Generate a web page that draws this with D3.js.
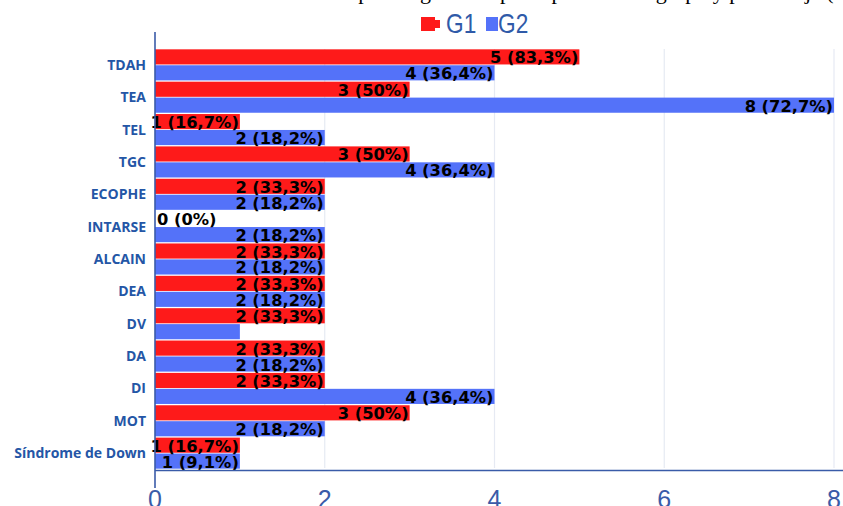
<!DOCTYPE html>
<html>
<head>
<meta charset="utf-8">
<script src="https://cdn.jsdelivr.net/npm/d3@7"></script>
<style>
  body { margin: 0; background: #fff; }
  svg { display: block; }
  .cat { font-family: "Open Sans", sans-serif; font-weight: 700; font-size: 14px; fill: #2456a6; }
  .val { font-family: "DejaVu Sans", sans-serif; font-weight: 700; font-size: 16.3px; fill: #000; }
  .tick-lbl { font-family: "Liberation Sans", sans-serif; font-size: 25px; fill: #3a5ba8; }
</style>
</head>
<body>
<svg id="chart" width="843" height="506"></svg>
<script>
var categories = ["TDAH", "TEA", "TEL", "TGC", "ECOPHE", "INTARSE", "ALCAIN", "DEA", "DV", "DA", "DI", "MOT", "Síndrome de Down"];
var groups = ["G1", "G2"];
var g1Values = [5, 3, 1, 3, 2, 0, 2, 2, 2, 2, 2, 3, 1];
var g2Values = [4, 8, 2, 4, 2, 2, 2, 2, 1, 2, 4, 2, 1];
var g1Labels = ["5 (83,3%)", "3 (50%)", "1 (16,7%)", "3 (50%)", "2 (33,3%)", "0 (0%)", "2 (33,3%)", "2 (33,3%)", "2 (33,3%)", "2 (33,3%)", "2 (33,3%)", "3 (50%)", "1 (16,7%)"];
var g2Labels = ["4 (36,4%)", "8 (72,7%)", "2 (18,2%)", "4 (36,4%)", "2 (18,2%)", "2 (18,2%)", "2 (18,2%)", "2 (18,2%)", "", "2 (18,2%)", "4 (36,4%)", "2 (18,2%)", "1 (9,1%)"];
var xTicks = [0, 2, 4, 6, 8];

var svg = d3.select("#chart");
var color = d3.scaleOrdinal().domain(groups).range(["#fe1a1a", "#5472f9"]);

var x = d3.scaleLinear()
    .domain([0, 8])
    .range([155, 834]);

var y = d3.scaleBand()
    .domain(categories)
    .range([49, 469])
    .paddingInner(0.04)
    .paddingOuter(0.01);

var ySub = d3.scaleBand()
    .domain(groups)
    .range([0, y.bandwidth()])
    .paddingInner(0.05);

var rows = categories.map(function(c, i) {
  return {cat: c, vals: [
    {g: "G1", v: g1Values[i], label: g1Labels[i]},
    {g: "G2", v: g2Values[i], label: g2Labels[i]}
  ]};
});

// title, mostly cut off at the top edge
svg.append("text")
    .attr("x", 150)
    .attr("y", -1)
    .attr("font-family", "Liberation Serif, serif")
    .attr("font-size", 22)
    .attr("fill", "#000")
    .text("Frecuencia de alumnos por diagnóstico principal en cada grupo y porcentaje (n y %)");

// gridlines
svg.selectAll(".grid")
    .data(xTicks.slice(1))
  .enter().append("line")
    .attr("x1", function(d) { return x(d); })
    .attr("x2", function(d) { return x(d); })
    .attr("y1", 49)
    .attr("y2", 468)
    .attr("stroke", "#e6eaf3")
    .attr("stroke-width", 1.2);

// bars
var row = svg.selectAll(".row")
    .data(rows)
  .enter().append("g")
    .attr("transform", function(d) { return "translate(0," + y(d.cat) + ")"; });

row.selectAll("rect")
    .data(function(d) { return d.vals; })
  .enter().append("rect")
    .attr("x", x(0))
    .attr("y", function(d) { return ySub(d.g); })
    .attr("width", function(d) { return x(d.v) - x(0); })
    .attr("height", ySub.bandwidth())
    .attr("fill", function(d) { return color(d.g); });

row.selectAll(".val")
    .data(function(d) { return d.vals; })
  .enter().append("text")
    .attr("class", "val")
    .attr("x", function(d) { return d.v === 0 ? x(0) + 2 : x(d.v) - 1; })
    .attr("y", function(d) { return ySub(d.g) + ySub.bandwidth() / 2 + 6.5; })
    .attr("text-anchor", function(d) { return d.v === 0 ? "start" : "end"; })
    .text(function(d) { return d.label; });

// category labels
svg.selectAll(".cat")
    .data(categories)
  .enter().append("text")
    .attr("class", "cat")
    .attr("x", 146)
    .attr("y", function(d) { return y(d) + y.bandwidth() / 2 + 5; })
    .attr("text-anchor", "end")
    .text(function(d) { return d; });

// axes lines
svg.append("line")
    .attr("x1", x(0)).attr("x2", x(0))
    .attr("y1", 32).attr("y2", 488)
    .attr("stroke", "#3a5ba8").attr("stroke-width", 1.6);
svg.append("line")
    .attr("x1", x(0)).attr("x2", 843)
    .attr("y1", 470.5).attr("y2", 470.5)
    .attr("stroke", "#3a5ba8").attr("stroke-width", 1.4);

svg.selectAll(".tick-lbl")
    .data(xTicks)
  .enter().append("text")
    .attr("class", "tick-lbl")
    .attr("x", function(d) { return x(d); })
    .attr("y", 508)
    .attr("text-anchor", "middle")
    .text(function(d) { return d; });

// legend
var legend = svg.append("g");
var legendX = [421, 486];
legend.selectAll("rect")
    .data(groups)
  .enter().append("rect")
    .attr("x", function(d, i) { return legendX[i]; })
    .attr("y", 17)
    .attr("width", function(d, i) { return i === 0 ? 14 : 12; })
    .attr("height", 14)
    .attr("fill", function(d) { return color(d); });
legend.append("rect")
    .attr("x", 435).attr("y", 20).attr("width", 5).attr("height", 8)
    .attr("fill", color("G1"));
legend.selectAll("text")
    .data(groups)
  .enter().append("text")
    .attr("transform", function(d, i) { return "translate(" + (i === 0 ? 446 : 498) + ",33) scale(0.84,1)"; })
    .attr("font-family", "Liberation Sans, sans-serif")
    .attr("font-size", 27)
    .attr("fill", "#2f5aa8")
    .text(function(d) { return d; });
</script>
</body>
</html>
